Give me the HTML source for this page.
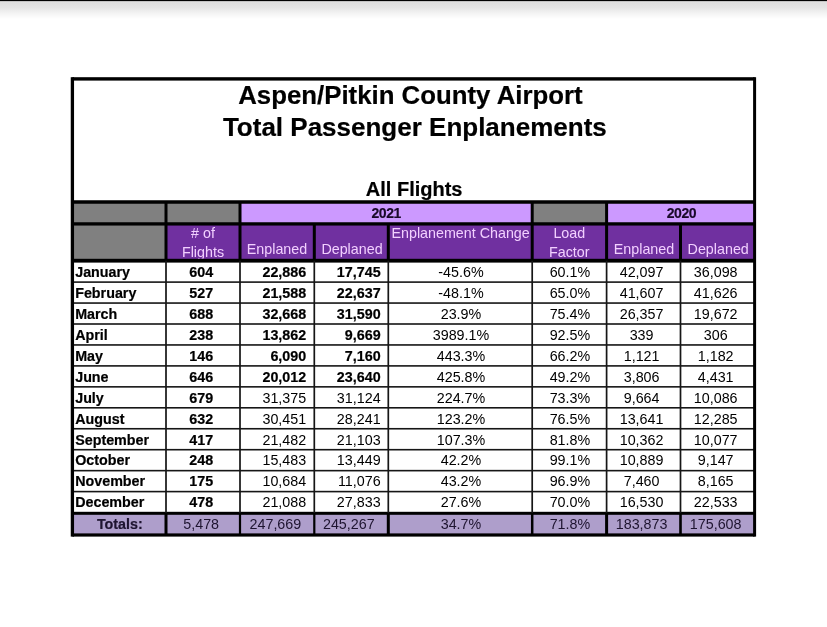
<!DOCTYPE html>
<html><head><meta charset="utf-8">
<style>
html,body{margin:0;padding:0;background:#fff;width:827px;height:627px;overflow:hidden;}
.bar{position:absolute;left:0;top:2px;width:827px;height:17px;
background:linear-gradient(to bottom,#e2e2e2 0px,#dfdfdf 1px,#e6e6e6 6px,#f3f3f3 11px,#ffffff 17px);}
.b0{position:absolute;left:0;top:0;width:827px;height:1px;background:#030303;}
.b1{position:absolute;left:0;top:1px;width:827px;height:1px;background:#c4c4c4;}
svg{position:absolute;left:0;top:0;will-change:transform;}
text{font-family:"Liberation Sans",sans-serif;}
</style></head><body>
<div class="bar"></div><div class="b0"></div><div class="b1"></div>
<svg width="827" height="627" viewBox="0 0 827 627">
<rect x="70.75" y="78.90" width="685.35" height="456.10" fill="#ffffff"/>
<rect x="72.40" y="202.00" width="167.60" height="21.90" fill="#808080"/>
<rect x="240.00" y="202.00" width="292.20" height="21.90" fill="#cc99ff"/>
<rect x="532.20" y="202.00" width="74.40" height="21.90" fill="#808080"/>
<rect x="606.60" y="202.00" width="148.00" height="21.90" fill="#cc99ff"/>
<rect x="72.40" y="223.90" width="93.60" height="36.80" fill="#808080"/>
<rect x="166.00" y="223.90" width="588.60" height="36.80" fill="#7030a0"/>
<rect x="72.40" y="513.30" width="682.20" height="21.70" fill="#ae9ecb"/>
<rect x="72.40" y="77.20" width="682.20" height="3.40" fill="#000"/>
<rect x="72.40" y="200.25" width="682.20" height="3.50" fill="#000"/>
<rect x="72.40" y="222.25" width="682.20" height="3.30" fill="#000"/>
<rect x="72.40" y="258.80" width="682.20" height="3.80" fill="#000"/>
<rect x="72.40" y="281.30" width="682.20" height="1.60" fill="#161616"/>
<rect x="72.40" y="302.25" width="682.20" height="1.60" fill="#161616"/>
<rect x="72.40" y="323.20" width="682.20" height="1.60" fill="#161616"/>
<rect x="72.40" y="344.15" width="682.20" height="1.60" fill="#161616"/>
<rect x="72.40" y="365.10" width="682.20" height="1.60" fill="#161616"/>
<rect x="72.40" y="386.05" width="682.20" height="1.60" fill="#161616"/>
<rect x="72.40" y="407.00" width="682.20" height="1.60" fill="#161616"/>
<rect x="72.40" y="427.95" width="682.20" height="1.60" fill="#161616"/>
<rect x="72.40" y="448.90" width="682.20" height="1.60" fill="#161616"/>
<rect x="72.40" y="469.85" width="682.20" height="1.60" fill="#161616"/>
<rect x="72.40" y="490.80" width="682.20" height="1.60" fill="#161616"/>
<rect x="72.40" y="511.80" width="682.20" height="3.00" fill="#000"/>
<rect x="72.40" y="533.40" width="682.20" height="3.20" fill="#000"/>
<rect x="70.75" y="77.20" width="3.30" height="459.40" fill="#000"/>
<rect x="753.10" y="77.20" width="3.00" height="459.40" fill="#000"/>
<rect x="164.50" y="202.00" width="3.00" height="21.90" fill="#000"/>
<rect x="238.50" y="202.00" width="3.00" height="21.90" fill="#000"/>
<rect x="530.70" y="202.00" width="3.00" height="21.90" fill="#000"/>
<rect x="605.10" y="202.00" width="3.00" height="21.90" fill="#000"/>
<rect x="164.50" y="223.90" width="3.00" height="36.80" fill="#000"/>
<rect x="238.50" y="223.90" width="3.00" height="36.80" fill="#000"/>
<rect x="312.80" y="223.90" width="3.00" height="36.80" fill="#000"/>
<rect x="386.80" y="223.90" width="3.00" height="36.80" fill="#000"/>
<rect x="530.70" y="223.90" width="3.00" height="36.80" fill="#000"/>
<rect x="605.10" y="223.90" width="3.00" height="36.80" fill="#000"/>
<rect x="679.00" y="223.90" width="3.00" height="36.80" fill="#000"/>
<rect x="165.15" y="260.70" width="1.70" height="252.60" fill="#161616"/>
<rect x="239.15" y="260.70" width="1.70" height="252.60" fill="#161616"/>
<rect x="313.45" y="260.70" width="1.70" height="252.60" fill="#161616"/>
<rect x="387.45" y="260.70" width="1.70" height="252.60" fill="#161616"/>
<rect x="531.35" y="260.70" width="1.70" height="252.60" fill="#161616"/>
<rect x="605.75" y="260.70" width="1.70" height="252.60" fill="#161616"/>
<rect x="679.65" y="260.70" width="1.70" height="252.60" fill="#161616"/>
<rect x="164.50" y="513.30" width="3.00" height="21.70" fill="#000"/>
<rect x="238.90" y="513.30" width="2.20" height="21.70" fill="#000"/>
<rect x="313.20" y="513.30" width="2.20" height="21.70" fill="#000"/>
<rect x="386.80" y="513.30" width="3.00" height="21.70" fill="#000"/>
<rect x="530.95" y="513.30" width="2.50" height="21.70" fill="#000"/>
<rect x="605.10" y="513.30" width="3.00" height="21.70" fill="#000"/>
<rect x="679.20" y="513.30" width="2.60" height="21.70" fill="#000"/>
<text x="238.20" y="103.60" font-size="25.8" font-weight="bold" text-anchor="start" fill="#000" stroke="#000" stroke-width="0.2">Aspen/Pitkin County Airport</text>
<text x="222.90" y="135.80" font-size="26.0" font-weight="bold" text-anchor="start" fill="#000" stroke="#000" stroke-width="0.2">Total Passenger Enplanements</text>
<text x="365.80" y="195.90" font-size="20" font-weight="bold" text-anchor="start" fill="#000" stroke="#000" stroke-width="0.2">All Flights</text>
<text x="386.2" y="217.9" font-size="14" font-weight="bold" text-anchor="middle" fill="#1a0a2a" stroke="#1a0a2a" stroke-width="0.2" letter-spacing="-0.45">2021</text>
<text x="681.4" y="217.9" font-size="14" font-weight="bold" text-anchor="middle" fill="#1a0a2a" stroke="#1a0a2a" stroke-width="0.2" letter-spacing="-0.45">2020</text>
<clipPath id="hc"><rect x="0" y="225" width="827" height="33.6"/></clipPath><g clip-path="url(#hc)">
<text x="203.00" y="238.00" font-size="14.3" font-weight="normal" text-anchor="middle" fill="#f2d0ff" stroke="#f2d0ff" stroke-width="0.0"># of</text>
<text x="203.00" y="256.50" font-size="14.3" font-weight="normal" text-anchor="middle" fill="#f2d0ff" stroke="#f2d0ff" stroke-width="0.0">Flights</text>
<text x="277.00" y="253.80" font-size="14.3" font-weight="normal" text-anchor="middle" fill="#f2d0ff" stroke="#f2d0ff" stroke-width="0.0">Enplaned</text>
<text x="352.00" y="253.80" font-size="14.3" font-weight="normal" text-anchor="middle" fill="#f2d0ff" stroke="#f2d0ff" stroke-width="0.0">Deplaned</text>
<text x="460.60" y="237.90" font-size="14.3" font-weight="normal" text-anchor="middle" fill="#f2d0ff" stroke="#f2d0ff" stroke-width="0.0">Enplanement Change</text>
<text x="569.30" y="238.00" font-size="14.3" font-weight="normal" text-anchor="middle" fill="#f2d0ff" stroke="#f2d0ff" stroke-width="0.0">Load</text>
<text x="569.30" y="256.50" font-size="14.3" font-weight="normal" text-anchor="middle" fill="#f2d0ff" stroke="#f2d0ff" stroke-width="0.0">Factor</text>
<text x="644.00" y="253.80" font-size="14.3" font-weight="normal" text-anchor="middle" fill="#f2d0ff" stroke="#f2d0ff" stroke-width="0.0">Enplaned</text>
<text x="718.20" y="253.80" font-size="14.3" font-weight="normal" text-anchor="middle" fill="#f2d0ff" stroke="#f2d0ff" stroke-width="0.0">Deplaned</text>
</g>
<text x="75.20" y="276.90" font-size="14.3" font-weight="bold" text-anchor="start" fill="#000" stroke="#000" stroke-width="0.2">January</text>
<text x="201.20" y="276.90" font-size="14.3" font-weight="bold" text-anchor="middle" fill="#000" stroke="#000" stroke-width="0.2">604</text>
<text x="306.20" y="276.90" font-size="14.3" font-weight="bold" text-anchor="end" fill="#000" stroke="#000" stroke-width="0.2">22,886</text>
<text x="380.60" y="276.90" font-size="14.3" font-weight="bold" text-anchor="end" fill="#000" stroke="#000" stroke-width="0.2">17,745</text>
<text x="461.00" y="276.90" font-size="14.3" font-weight="normal" text-anchor="middle" fill="#000" stroke="#000" stroke-width="0.0">-45.6%</text>
<text x="569.90" y="276.90" font-size="14.3" font-weight="normal" text-anchor="middle" fill="#000" stroke="#000" stroke-width="0.0">60.1%</text>
<text x="641.60" y="276.90" font-size="14.3" font-weight="normal" text-anchor="middle" fill="#000" stroke="#000" stroke-width="0.0">42,097</text>
<text x="715.70" y="276.90" font-size="14.3" font-weight="normal" text-anchor="middle" fill="#000" stroke="#000" stroke-width="0.0">36,098</text>
<text x="75.20" y="297.85" font-size="14.3" font-weight="bold" text-anchor="start" fill="#000" stroke="#000" stroke-width="0.2">February</text>
<text x="201.20" y="297.85" font-size="14.3" font-weight="bold" text-anchor="middle" fill="#000" stroke="#000" stroke-width="0.2">527</text>
<text x="306.20" y="297.85" font-size="14.3" font-weight="bold" text-anchor="end" fill="#000" stroke="#000" stroke-width="0.2">21,588</text>
<text x="380.60" y="297.85" font-size="14.3" font-weight="bold" text-anchor="end" fill="#000" stroke="#000" stroke-width="0.2">22,637</text>
<text x="461.00" y="297.85" font-size="14.3" font-weight="normal" text-anchor="middle" fill="#000" stroke="#000" stroke-width="0.0">-48.1%</text>
<text x="569.90" y="297.85" font-size="14.3" font-weight="normal" text-anchor="middle" fill="#000" stroke="#000" stroke-width="0.0">65.0%</text>
<text x="641.60" y="297.85" font-size="14.3" font-weight="normal" text-anchor="middle" fill="#000" stroke="#000" stroke-width="0.0">41,607</text>
<text x="715.70" y="297.85" font-size="14.3" font-weight="normal" text-anchor="middle" fill="#000" stroke="#000" stroke-width="0.0">41,626</text>
<text x="75.20" y="318.80" font-size="14.3" font-weight="bold" text-anchor="start" fill="#000" stroke="#000" stroke-width="0.2">March</text>
<text x="201.20" y="318.80" font-size="14.3" font-weight="bold" text-anchor="middle" fill="#000" stroke="#000" stroke-width="0.2">688</text>
<text x="306.20" y="318.80" font-size="14.3" font-weight="bold" text-anchor="end" fill="#000" stroke="#000" stroke-width="0.2">32,668</text>
<text x="380.60" y="318.80" font-size="14.3" font-weight="bold" text-anchor="end" fill="#000" stroke="#000" stroke-width="0.2">31,590</text>
<text x="461.00" y="318.80" font-size="14.3" font-weight="normal" text-anchor="middle" fill="#000" stroke="#000" stroke-width="0.0">23.9%</text>
<text x="569.90" y="318.80" font-size="14.3" font-weight="normal" text-anchor="middle" fill="#000" stroke="#000" stroke-width="0.0">75.4%</text>
<text x="641.60" y="318.80" font-size="14.3" font-weight="normal" text-anchor="middle" fill="#000" stroke="#000" stroke-width="0.0">26,357</text>
<text x="715.70" y="318.80" font-size="14.3" font-weight="normal" text-anchor="middle" fill="#000" stroke="#000" stroke-width="0.0">19,672</text>
<text x="75.20" y="339.75" font-size="14.3" font-weight="bold" text-anchor="start" fill="#000" stroke="#000" stroke-width="0.2">April</text>
<text x="201.20" y="339.75" font-size="14.3" font-weight="bold" text-anchor="middle" fill="#000" stroke="#000" stroke-width="0.2">238</text>
<text x="306.20" y="339.75" font-size="14.3" font-weight="bold" text-anchor="end" fill="#000" stroke="#000" stroke-width="0.2">13,862</text>
<text x="380.60" y="339.75" font-size="14.3" font-weight="bold" text-anchor="end" fill="#000" stroke="#000" stroke-width="0.2">9,669</text>
<text x="461.00" y="339.75" font-size="14.3" font-weight="normal" text-anchor="middle" fill="#000" stroke="#000" stroke-width="0.0">3989.1%</text>
<text x="569.90" y="339.75" font-size="14.3" font-weight="normal" text-anchor="middle" fill="#000" stroke="#000" stroke-width="0.0">92.5%</text>
<text x="641.60" y="339.75" font-size="14.3" font-weight="normal" text-anchor="middle" fill="#000" stroke="#000" stroke-width="0.0">339</text>
<text x="715.70" y="339.75" font-size="14.3" font-weight="normal" text-anchor="middle" fill="#000" stroke="#000" stroke-width="0.0">306</text>
<text x="75.20" y="360.70" font-size="14.3" font-weight="bold" text-anchor="start" fill="#000" stroke="#000" stroke-width="0.2">May</text>
<text x="201.20" y="360.70" font-size="14.3" font-weight="bold" text-anchor="middle" fill="#000" stroke="#000" stroke-width="0.2">146</text>
<text x="306.20" y="360.70" font-size="14.3" font-weight="bold" text-anchor="end" fill="#000" stroke="#000" stroke-width="0.2">6,090</text>
<text x="380.60" y="360.70" font-size="14.3" font-weight="bold" text-anchor="end" fill="#000" stroke="#000" stroke-width="0.2">7,160</text>
<text x="461.00" y="360.70" font-size="14.3" font-weight="normal" text-anchor="middle" fill="#000" stroke="#000" stroke-width="0.0">443.3%</text>
<text x="569.90" y="360.70" font-size="14.3" font-weight="normal" text-anchor="middle" fill="#000" stroke="#000" stroke-width="0.0">66.2%</text>
<text x="641.60" y="360.70" font-size="14.3" font-weight="normal" text-anchor="middle" fill="#000" stroke="#000" stroke-width="0.0">1,121</text>
<text x="715.70" y="360.70" font-size="14.3" font-weight="normal" text-anchor="middle" fill="#000" stroke="#000" stroke-width="0.0">1,182</text>
<text x="75.20" y="381.65" font-size="14.3" font-weight="bold" text-anchor="start" fill="#000" stroke="#000" stroke-width="0.2">June</text>
<text x="201.20" y="381.65" font-size="14.3" font-weight="bold" text-anchor="middle" fill="#000" stroke="#000" stroke-width="0.2">646</text>
<text x="306.20" y="381.65" font-size="14.3" font-weight="bold" text-anchor="end" fill="#000" stroke="#000" stroke-width="0.2">20,012</text>
<text x="380.60" y="381.65" font-size="14.3" font-weight="bold" text-anchor="end" fill="#000" stroke="#000" stroke-width="0.2">23,640</text>
<text x="461.00" y="381.65" font-size="14.3" font-weight="normal" text-anchor="middle" fill="#000" stroke="#000" stroke-width="0.0">425.8%</text>
<text x="569.90" y="381.65" font-size="14.3" font-weight="normal" text-anchor="middle" fill="#000" stroke="#000" stroke-width="0.0">49.2%</text>
<text x="641.60" y="381.65" font-size="14.3" font-weight="normal" text-anchor="middle" fill="#000" stroke="#000" stroke-width="0.0">3,806</text>
<text x="715.70" y="381.65" font-size="14.3" font-weight="normal" text-anchor="middle" fill="#000" stroke="#000" stroke-width="0.0">4,431</text>
<text x="75.20" y="402.60" font-size="14.3" font-weight="bold" text-anchor="start" fill="#000" stroke="#000" stroke-width="0.2">July</text>
<text x="201.20" y="402.60" font-size="14.3" font-weight="bold" text-anchor="middle" fill="#000" stroke="#000" stroke-width="0.2">679</text>
<text x="306.20" y="402.60" font-size="14.3" font-weight="normal" text-anchor="end" fill="#000" stroke="#000" stroke-width="0.0">31,375</text>
<text x="380.60" y="402.60" font-size="14.3" font-weight="normal" text-anchor="end" fill="#000" stroke="#000" stroke-width="0.0">31,124</text>
<text x="461.00" y="402.60" font-size="14.3" font-weight="normal" text-anchor="middle" fill="#000" stroke="#000" stroke-width="0.0">224.7%</text>
<text x="569.90" y="402.60" font-size="14.3" font-weight="normal" text-anchor="middle" fill="#000" stroke="#000" stroke-width="0.0">73.3%</text>
<text x="641.60" y="402.60" font-size="14.3" font-weight="normal" text-anchor="middle" fill="#000" stroke="#000" stroke-width="0.0">9,664</text>
<text x="715.70" y="402.60" font-size="14.3" font-weight="normal" text-anchor="middle" fill="#000" stroke="#000" stroke-width="0.0">10,086</text>
<text x="75.20" y="423.55" font-size="14.3" font-weight="bold" text-anchor="start" fill="#000" stroke="#000" stroke-width="0.2">August</text>
<text x="201.20" y="423.55" font-size="14.3" font-weight="bold" text-anchor="middle" fill="#000" stroke="#000" stroke-width="0.2">632</text>
<text x="306.20" y="423.55" font-size="14.3" font-weight="normal" text-anchor="end" fill="#000" stroke="#000" stroke-width="0.0">30,451</text>
<text x="380.60" y="423.55" font-size="14.3" font-weight="normal" text-anchor="end" fill="#000" stroke="#000" stroke-width="0.0">28,241</text>
<text x="461.00" y="423.55" font-size="14.3" font-weight="normal" text-anchor="middle" fill="#000" stroke="#000" stroke-width="0.0">123.2%</text>
<text x="569.90" y="423.55" font-size="14.3" font-weight="normal" text-anchor="middle" fill="#000" stroke="#000" stroke-width="0.0">76.5%</text>
<text x="641.60" y="423.55" font-size="14.3" font-weight="normal" text-anchor="middle" fill="#000" stroke="#000" stroke-width="0.0">13,641</text>
<text x="715.70" y="423.55" font-size="14.3" font-weight="normal" text-anchor="middle" fill="#000" stroke="#000" stroke-width="0.0">12,285</text>
<text x="75.20" y="444.50" font-size="14.3" font-weight="bold" text-anchor="start" fill="#000" stroke="#000" stroke-width="0.2">September</text>
<text x="201.20" y="444.50" font-size="14.3" font-weight="bold" text-anchor="middle" fill="#000" stroke="#000" stroke-width="0.2">417</text>
<text x="306.20" y="444.50" font-size="14.3" font-weight="normal" text-anchor="end" fill="#000" stroke="#000" stroke-width="0.0">21,482</text>
<text x="380.60" y="444.50" font-size="14.3" font-weight="normal" text-anchor="end" fill="#000" stroke="#000" stroke-width="0.0">21,103</text>
<text x="461.00" y="444.50" font-size="14.3" font-weight="normal" text-anchor="middle" fill="#000" stroke="#000" stroke-width="0.0">107.3%</text>
<text x="569.90" y="444.50" font-size="14.3" font-weight="normal" text-anchor="middle" fill="#000" stroke="#000" stroke-width="0.0">81.8%</text>
<text x="641.60" y="444.50" font-size="14.3" font-weight="normal" text-anchor="middle" fill="#000" stroke="#000" stroke-width="0.0">10,362</text>
<text x="715.70" y="444.50" font-size="14.3" font-weight="normal" text-anchor="middle" fill="#000" stroke="#000" stroke-width="0.0">10,077</text>
<text x="75.20" y="465.45" font-size="14.3" font-weight="bold" text-anchor="start" fill="#000" stroke="#000" stroke-width="0.2">October</text>
<text x="201.20" y="465.45" font-size="14.3" font-weight="bold" text-anchor="middle" fill="#000" stroke="#000" stroke-width="0.2">248</text>
<text x="306.20" y="465.45" font-size="14.3" font-weight="normal" text-anchor="end" fill="#000" stroke="#000" stroke-width="0.0">15,483</text>
<text x="380.60" y="465.45" font-size="14.3" font-weight="normal" text-anchor="end" fill="#000" stroke="#000" stroke-width="0.0">13,449</text>
<text x="461.00" y="465.45" font-size="14.3" font-weight="normal" text-anchor="middle" fill="#000" stroke="#000" stroke-width="0.0">42.2%</text>
<text x="569.90" y="465.45" font-size="14.3" font-weight="normal" text-anchor="middle" fill="#000" stroke="#000" stroke-width="0.0">99.1%</text>
<text x="641.60" y="465.45" font-size="14.3" font-weight="normal" text-anchor="middle" fill="#000" stroke="#000" stroke-width="0.0">10,889</text>
<text x="715.70" y="465.45" font-size="14.3" font-weight="normal" text-anchor="middle" fill="#000" stroke="#000" stroke-width="0.0">9,147</text>
<text x="75.20" y="486.40" font-size="14.3" font-weight="bold" text-anchor="start" fill="#000" stroke="#000" stroke-width="0.2">November</text>
<text x="201.20" y="486.40" font-size="14.3" font-weight="bold" text-anchor="middle" fill="#000" stroke="#000" stroke-width="0.2">175</text>
<text x="306.20" y="486.40" font-size="14.3" font-weight="normal" text-anchor="end" fill="#000" stroke="#000" stroke-width="0.0">10,684</text>
<text x="380.60" y="486.40" font-size="14.3" font-weight="normal" text-anchor="end" fill="#000" stroke="#000" stroke-width="0.0">11,076</text>
<text x="461.00" y="486.40" font-size="14.3" font-weight="normal" text-anchor="middle" fill="#000" stroke="#000" stroke-width="0.0">43.2%</text>
<text x="569.90" y="486.40" font-size="14.3" font-weight="normal" text-anchor="middle" fill="#000" stroke="#000" stroke-width="0.0">96.9%</text>
<text x="641.60" y="486.40" font-size="14.3" font-weight="normal" text-anchor="middle" fill="#000" stroke="#000" stroke-width="0.0">7,460</text>
<text x="715.70" y="486.40" font-size="14.3" font-weight="normal" text-anchor="middle" fill="#000" stroke="#000" stroke-width="0.0">8,165</text>
<text x="75.20" y="507.35" font-size="14.3" font-weight="bold" text-anchor="start" fill="#000" stroke="#000" stroke-width="0.2">December</text>
<text x="201.20" y="507.35" font-size="14.3" font-weight="bold" text-anchor="middle" fill="#000" stroke="#000" stroke-width="0.2">478</text>
<text x="306.20" y="507.35" font-size="14.3" font-weight="normal" text-anchor="end" fill="#000" stroke="#000" stroke-width="0.0">21,088</text>
<text x="380.60" y="507.35" font-size="14.3" font-weight="normal" text-anchor="end" fill="#000" stroke="#000" stroke-width="0.0">27,833</text>
<text x="461.00" y="507.35" font-size="14.3" font-weight="normal" text-anchor="middle" fill="#000" stroke="#000" stroke-width="0.0">27.6%</text>
<text x="569.90" y="507.35" font-size="14.3" font-weight="normal" text-anchor="middle" fill="#000" stroke="#000" stroke-width="0.0">70.0%</text>
<text x="641.60" y="507.35" font-size="14.3" font-weight="normal" text-anchor="middle" fill="#000" stroke="#000" stroke-width="0.0">16,530</text>
<text x="715.70" y="507.35" font-size="14.3" font-weight="normal" text-anchor="middle" fill="#000" stroke="#000" stroke-width="0.0">22,533</text>
<text x="119.80" y="529.00" font-size="14.3" font-weight="bold" text-anchor="middle" fill="#1e1430" stroke="#1e1430" stroke-width="0.2">Totals:</text>
<text x="201.20" y="529.00" font-size="14.3" font-weight="normal" text-anchor="middle" fill="#1e1430" stroke="#1e1430" stroke-width="0.0">5,478</text>
<text x="275.40" y="529.00" font-size="14.3" font-weight="normal" text-anchor="middle" fill="#1e1430" stroke="#1e1430" stroke-width="0.0">247,669</text>
<text x="348.80" y="529.00" font-size="14.3" font-weight="normal" text-anchor="middle" fill="#1e1430" stroke="#1e1430" stroke-width="0.0">245,267</text>
<text x="461.00" y="529.00" font-size="14.3" font-weight="normal" text-anchor="middle" fill="#1e1430" stroke="#1e1430" stroke-width="0.0">34.7%</text>
<text x="569.90" y="529.00" font-size="14.3" font-weight="normal" text-anchor="middle" fill="#1e1430" stroke="#1e1430" stroke-width="0.0">71.8%</text>
<text x="641.60" y="529.00" font-size="14.3" font-weight="normal" text-anchor="middle" fill="#1e1430" stroke="#1e1430" stroke-width="0.0">183,873</text>
<text x="715.70" y="529.00" font-size="14.3" font-weight="normal" text-anchor="middle" fill="#1e1430" stroke="#1e1430" stroke-width="0.0">175,608</text>
</svg>
</body></html>
